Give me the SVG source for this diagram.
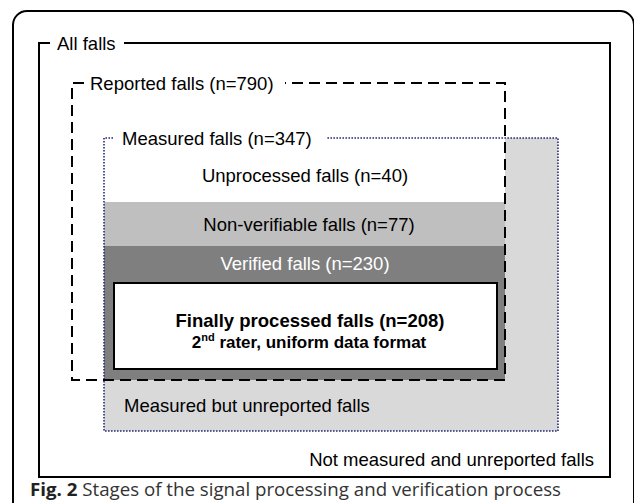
<svg xmlns="http://www.w3.org/2000/svg" width="634" height="503" viewBox="0 0 634 503">
<style>
.lbl{font-family:"Liberation Sans",Arial,sans-serif;font-size:18.5px;fill:#000}
.mid{text-anchor:middle}
.bold{font-weight:bold}
.solid{fill:none;stroke:#000;stroke-width:2}
.dash{fill:none;stroke:#000;stroke-width:2;stroke-dasharray:11 6}
.dot{fill:none;stroke:#2a2a78;stroke-width:1.6;stroke-dasharray:1.6 1.4}
.cap{font-family:"Open Sans","Noto Sans",sans-serif;font-size:18px;fill:#333}
</style>
<rect width="634" height="503" fill="#fff"/>
<path id="frame" d="M13,520 V25 A14,14 0 0 1 27,11 H620 A14,14 0 0 1 634,25 V520" fill="none" stroke="#000" stroke-width="2"/>

<g id="all-falls">
  <path class="solid" d="M50,43 H39 V477 H610 V43 H124"/>
  <text class="lbl" x="57" y="49.5">All falls</text>
  <text class="lbl" x="594" y="466" text-anchor="end">Not measured and unreported falls</text>
</g>

<g id="measured-falls">
  <rect x="104" y="138" width="454" height="293" fill="#d9d9d9"/>
  <text class="lbl" x="124" y="412">Measured but unreported falls</text>
</g>

<g id="unprocessed">
  <rect x="104" y="138" width="401" height="64" fill="#fff"/>
  <text class="lbl mid" x="305" y="182">Unprocessed falls (n=40)</text>
</g>

<g id="non-verifiable">
  <rect x="104" y="202" width="401" height="44" fill="#bfbfbf"/>
  <text class="lbl mid" x="309" y="231">Non-verifiable falls (n=77)</text>
</g>

<g id="verified">
  <rect x="104" y="246" width="401" height="134" fill="#7f7f7f"/>
  <text class="lbl mid" x="305" y="270" style="fill:#fff">Verified falls (n=230)</text>
</g>

<g id="measured-outline">
  <path class="dot" d="M113,138 H104 V431 H558 V138 H327"/>
  <text class="lbl" x="122" y="145">Measured falls (n=347)</text>
</g>

<g id="reported-falls">
  <path class="dash" d="M84,83 H72 V380 H505 V83 H285"/>
  <text class="lbl" x="90" y="89.5">Reported falls (n=790)</text>
</g>

<g id="finally-processed">
  <rect x="114" y="283" width="383" height="86" fill="#fff" stroke="#000" stroke-width="2"/>
  <text class="lbl mid bold" x="310" y="327">Finally processed falls (n=208)</text>
  <text class="lbl mid bold" x="309" y="348" style="font-size:17px">2<tspan style="font-size:11px" dy="-7">nd</tspan><tspan dy="7"> rater, uniform data format</tspan></text>
</g>

<g id="connectors"></g>

<text class="cap" x="30" y="496" textLength="531" lengthAdjust="spacingAndGlyphs"><tspan font-weight="bold" fill="#222">Fig. 2</tspan> Stages of the signal processing and verification process</text>
</svg>
